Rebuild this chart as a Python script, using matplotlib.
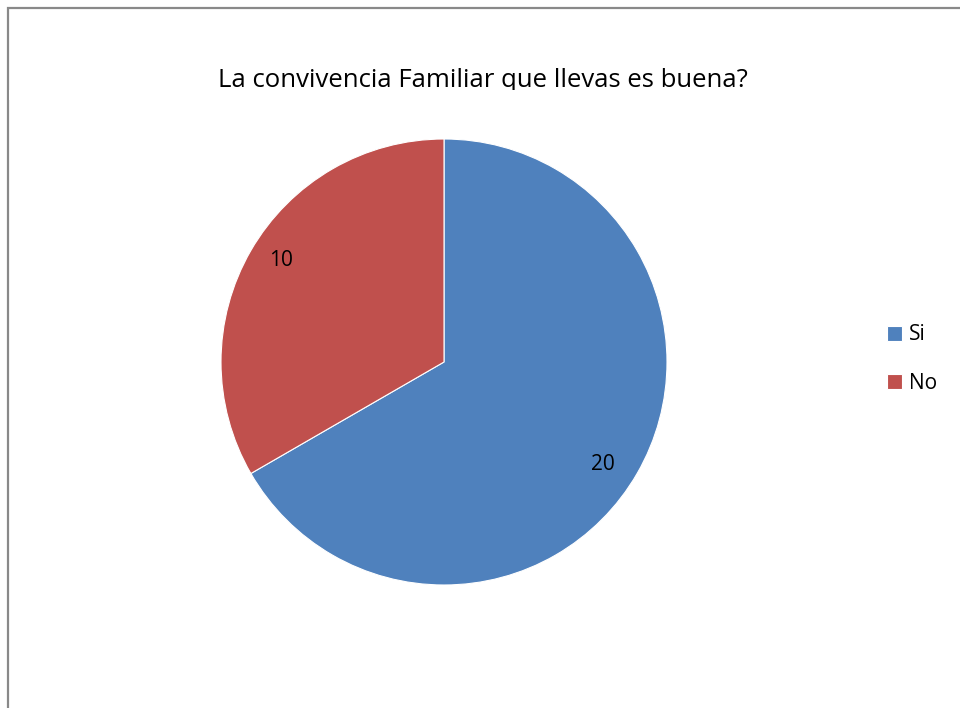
import matplotlib
matplotlib.use("Agg")
import matplotlib.pyplot as plt
from matplotlib.patches import Rectangle

categories = ["Si", "No"]
values = [20, 10]
colors = ["#4f81bd", "#c0504d"]
title = "La convivencia Familiar que llevas es buena?"

plt.rcParams['font.family'] = ['Open Sans', 'DejaVu Sans']

W, H = 960, 708
fig = plt.figure(figsize=(W / 100, H / 100), dpi=100)

# outer chart border (runs off right and bottom)
fig.patches.append(Rectangle((7.5 / W, -0.1), 1.2, 1 - 7.5 / H + 0.1,
                             transform=fig.transFigure, fill=False,
                             edgecolor="#898989", linewidth=1.6))

cx, cy, r = 444, 362, 223
ax = fig.add_axes([(cx - r) / W, (H - cy - r) / H, 2 * r / W, 2 * r / H])
wedges, _, autotexts = ax.pie(values, colors=colors, startangle=90, counterclock=False,
                              autopct=lambda p: f"{round(p * sum(values) / 100):d}",
                              pctdistance=0.85,
                              wedgeprops=dict(edgecolor="white", linewidth=0.8),
                              textprops=dict(fontsize=15, color="black"))
ax.set_xlim(-1, 1)
ax.set_ylim(-1, 1)
# nudge labels to where the original puts them
for t, (dx, dy) in zip(autotexts, [(-0.025, -0.035), (0.005, 0.03)]):
    t.set_position((t.get_position()[0] + dx, t.get_position()[1] + dy))

fig.text(483 / W, 1 - 87 / H, title, ha="center", va="baseline", fontsize=18.5)
# title is clipped at the bottom in the original
fig.patches.append(Rectangle((9 / W, 1 - 100 / H), 0.98, 10 / H,
                             transform=fig.transFigure, facecolor="white",
                             edgecolor="none", zorder=10))

fig.legend(wedges, categories, loc="center left", bbox_to_anchor=(887 / W, 1 - 359 / H),
           frameon=False, fontsize=15, handlelength=0.72, handleheight=0.72,
           handletextpad=0.35, labelspacing=1.3, borderaxespad=0, borderpad=0)

fig.savefig("out.png", dpi=100)
